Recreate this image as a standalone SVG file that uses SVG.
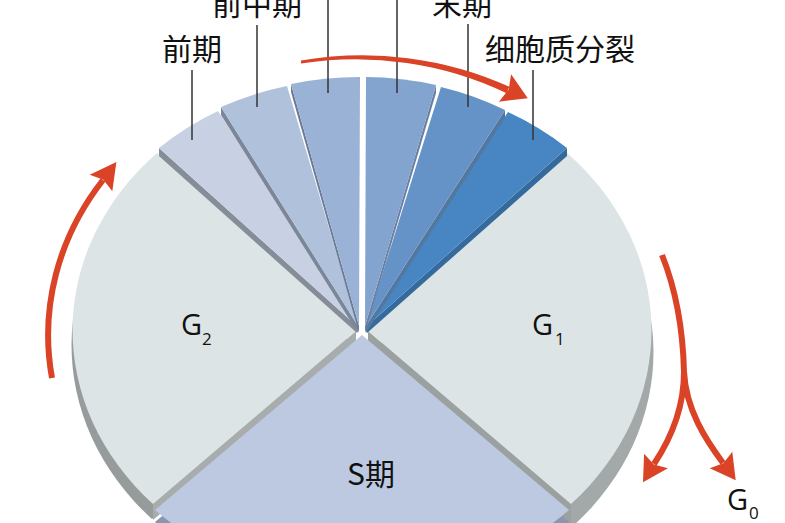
<svg xmlns="http://www.w3.org/2000/svg" width="785" height="523" viewBox="0 0 785 523">
<style>
.lbl{font-family:"Noto Sans CJK SC","Noto Sans",sans-serif;font-size:30px;fill:#111}
.g{font-family:"Open Sans","Noto Sans",sans-serif;font-size:29px;fill:#111}
.sub{font-size:17px}
.lead{stroke:#333;stroke-width:1.5;fill:none}
.arr{fill:none;stroke:#db4327;stroke-width:6}
.head{fill:#db4327}
</style>
<rect width="785" height="523" fill="#fff"/>
<g id="G2-base">
<path d="M355,346 L156,168 A292 252 0 0 0 152,519 Z" fill="#969b9b"/>
<path d="M356,331 L153,504 L153,520 L356,347 Z" fill="#a8acac"/>
</g>
<g id="G1-base">
<path d="M370,353 L569,175 A292 252 0 0 1 573,526 Z" fill="#a3a8a9"/>
<path d="M368,331 L571,504 L571,526 L368,353 Z" fill="#9ba0a0"/>
</g>
<g id="S">
<path d="M362,347 L155,522 A292 252 0 0 0 569,522 Z" fill="#8a96ab"/>
<path d="M362,335 L155,510 A292 252 0 0 0 569,510 Z" fill="#bcc9e1"/>
<text class="lbl" x="347" y="485">S期</text>
</g>
<g id="G2">
<path d="M356,331 L157,153 A292 252 0 0 0 153,504 Z" fill="#dde4e6"/>
<text class="g" x="181" y="335">G<tspan class="sub" x="202" y="345">2</tspan></text>
</g>
<g id="G1">
<path d="M368,331 L567,153 A292 252 0 0 1 571,504 Z" fill="#dde4e6"/>
<text class="g" x="532" y="335">G<tspan class="sub" x="555" y="345">1</tspan></text>
</g>
<g id="prophase">
<path d="M357,326 L159,148 L159,156 L357,333 Z" fill="#858d99"/>
<path d="M357,326 L159,148 A292 252 0 0 1 218,111 Z" fill="#c8d1e4"/>
</g>
<g id="cytokinesis">
<path d="M367,326 L567,148 L567,156 L367,333 Z" fill="#356a9c"/>
<path d="M367,326 L508,112 A292 252 0 0 1 567,148 Z" fill="#4886c3"/>
</g>
<g id="prometaphase">
<path d="M358,326 L221,107 L221,115 L358,333 Z" fill="#7b8799"/>
<path d="M358,326 L221,107 A292 252 0 0 1 287,86 Z" fill="#b0c1dc"/>
</g>
<g id="telophase">
<path d="M366,326 L505,110 L505,118 L366,333 Z" fill="#53789f"/>
<path d="M366,326 L441,87 A292 252 0 0 1 505,110 Z" fill="#6593c7"/>
</g>
<g id="metaphase">
<path d="M359,326 L291,84 L291,92 L359,333 Z" fill="#6b7b96"/>
<path d="M359,326 L291,84 A292 252 0 0 1 360,77 Z" fill="#9bb2d7"/>
</g>
<g id="anaphase">
<path d="M365,326 L436,85 L436,93 L365,333 Z" fill="#6a80a2"/>
<path d="M365,326 L366,77 A292 252 0 0 1 436,85 Z" fill="#84a4d0"/>
</g>
<g id="connectors">
<line class="lead" x1="192" y1="70" x2="192" y2="140"/>
<line class="lead" x1="257" y1="25" x2="257" y2="107"/>
<line class="lead" x1="328" y1="0" x2="328" y2="93"/>
<line class="lead" x1="397" y1="0" x2="397" y2="93"/>
<line class="lead" x1="468" y1="24" x2="468" y2="107"/>
<line class="lead" x1="533" y1="70" x2="533" y2="140"/>
<path class="head" d="M301,60.5 A318 278 0 0 1 509.4,86.8 L506.6,93.2 A312 272 0 0 0 301,63.5 Z"/>
<polygon class="head" points="527.8,98.2 498.9,101.7 508.7,89.6 511.1,74.3"/>
<path class="arr" d="M52,378 A315 275 0 0 1 103,180"/>
<polygon class="head" points="116.4,162.1 112.3,191.3 103.4,179.8 89.7,174.7"/>
<path class="arr" d="M662,255 C676,290 683,330 684,372 C684,405 672,437 654,464"/>
<polygon class="head" points="643,482.3 667.9,468.3 653.9,464.4 644.1,453.7"/>
<path class="arr" d="M684,372 C686,410 706,440 723,463"/>
<polygon class="head" points="735.7,480.2 709.7,468.2 723.4,463.2 732.3,451.8"/>
</g>
<g id="labels">
<text class="lbl" x="162" y="60">前期</text>
<text class="lbl" x="212" y="15">前中期</text>
<text class="lbl" x="432" y="15">末期</text>
<text class="lbl" x="485" y="60">细胞质分裂</text>
<text class="g" x="727" y="510">G<tspan class="sub" x="749" y="519">0</tspan></text>
</g>
</svg>
